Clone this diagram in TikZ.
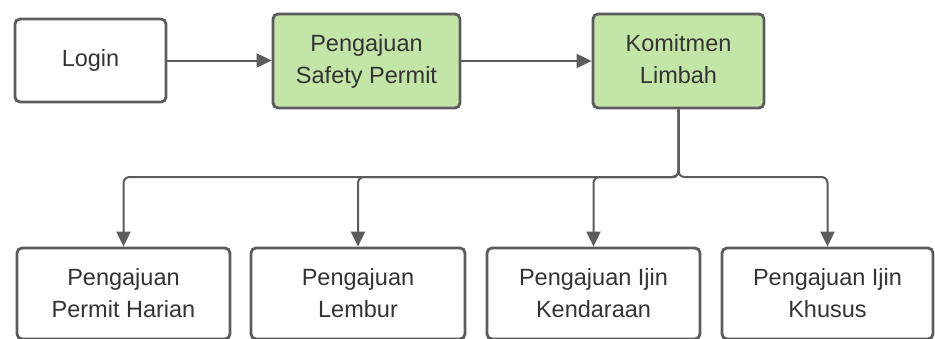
\documentclass[tikz,border=0pt]{standalone}
\usepackage{fontspec}
\setmainfont{Liberation Sans}
\usetikzlibrary{arrows.meta}
\definecolor{edge}{HTML}{5C5C5C}
\definecolor{greenfill}{HTML}{C4E5A8}
\definecolor{txt}{HTML}{333333}
\newcommand{\upstack}[1]{\raisebox{4pt}{\begin{tabular}{@{}c@{}}#1\end{tabular}}}
\tikzset{
  box/.style={draw=edge, line width=2.8pt, rounded corners=5pt, fill=white,
    align=center, text=txt, inner sep=0pt,
    font=\fontsize{23.5}{32}\selectfont},
  gbox/.style={box, fill=greenfill},
  conn/.style={draw=edge, line width=2pt, rounded corners=6pt,
    -{Triangle[length=15pt,width=14pt]}},
}
\begin{document}
\begin{tikzpicture}[x=1pt,y=-1pt]
\useasboundingbox (0,0) rectangle (935,338);
\clip (0,0) rectangle (935,338);
\node[box, minimum width=151pt, minimum height=83pt] (login) at (90.5,60.5) {Login};
\node[gbox, minimum width=187pt, minimum height=94pt] (safety) at (366.5,61) {\upstack{Pengajuan\\Safety Permit}};
\node[gbox, minimum width=171pt, minimum height=94pt] (limbah) at (678.5,61) {\upstack{Komitmen\\Limbah}};
\node[box, minimum width=213pt, minimum height=91pt] (harian) at (123.5,293.5) {Pengajuan\\Permit Harian};
\node[box, minimum width=214pt, minimum height=91pt] (lembur) at (358,293.5) {Pengajuan\\Lembur};
\node[box, minimum width=213pt, minimum height=91pt] (kendaraan) at (593.5,293.5) {Pengajuan Ijin\\Kendaraan};
\node[box, minimum width=211pt, minimum height=91pt] (khusus) at (827.5,293.5) {Pengajuan Ijin\\Khusus};
\coordinate (bus) at (678.5,177);
\draw[conn] (login.east) -- (login.east -| safety.west);
\draw[conn] (safety.east) -- (safety.east -| limbah.west);
\draw[conn] (limbah.south) -- (bus) -| (harian.north);
\draw[conn] (limbah.south) -- (bus) -| (lembur.north);
\draw[conn] (limbah.south) -- (bus) -| (kendaraan.north);
\draw[conn] (limbah.south) -- (bus) -| (khusus.north);
\end{tikzpicture}
\end{document}
